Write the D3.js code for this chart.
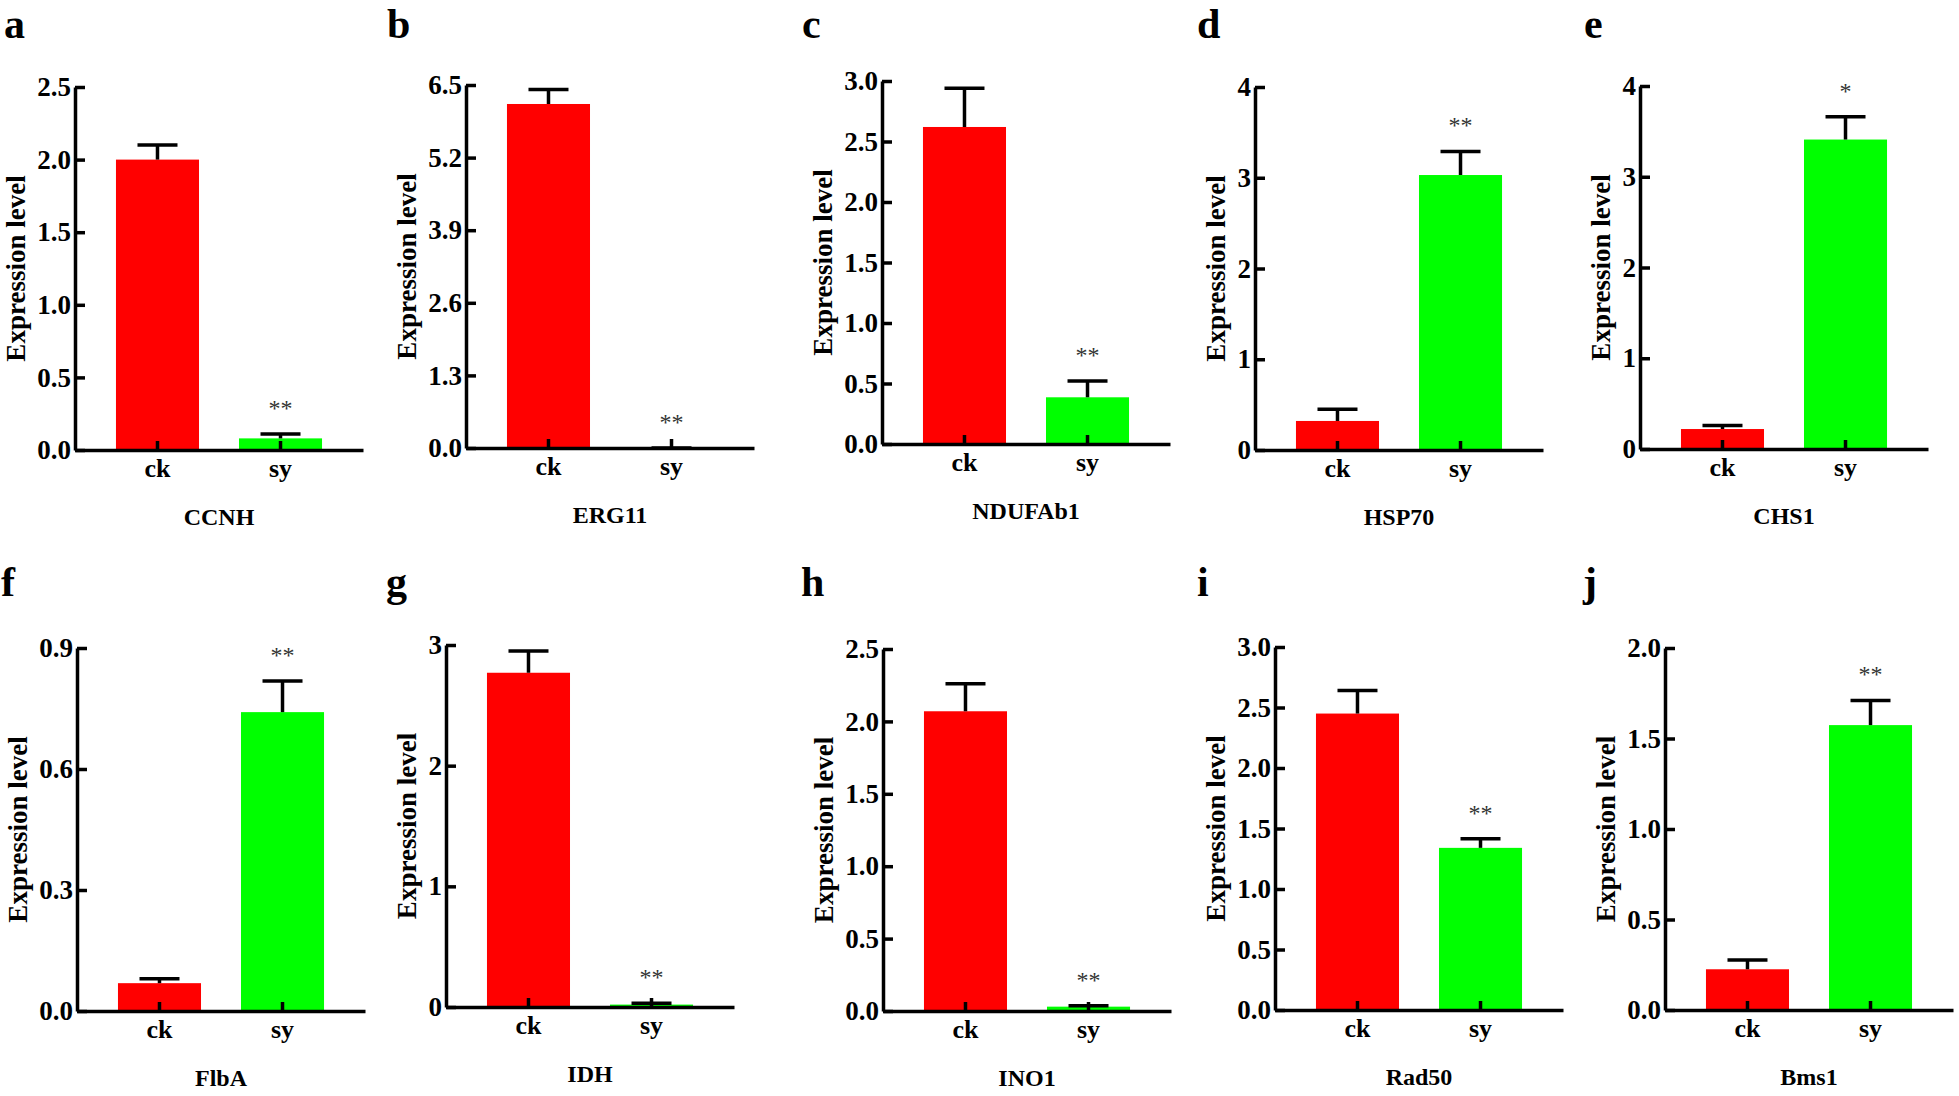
<!DOCTYPE html>
<html>
<head>
<meta charset="utf-8">
<script src="https://cdn.jsdelivr.net/npm/d3@7"></script>
<style>
    body { margin: 0; background: #fff; }
    text { font-family: "Liberation Serif", "Times New Roman", serif; }
</style>
</head>
<body>
<div id="chart"></div>
<script>
// values (upper error bar only)
const genes = ['CCNH', 'ERG11', 'NDUFAb1', 'HSP70', 'CHS1', 'FlbA', 'IDH', 'INO1', 'Rad50', 'Bms1'];
const letters = ['a', 'b', 'c', 'd', 'e', 'f', 'g', 'h', 'i', 'j'];
const groups = ['ck', 'sy'];
const ckMean = [2.00, 6.16, 2.62, 0.32, 0.22, 0.069, 2.77, 2.07, 2.45, 0.225];
const ckErr = [0.10, 0.26, 0.32, 0.13, 0.04, 0.011, 0.18, 0.19, 0.19, 0.051];
const syMean = [0.08, 0.0, 0.386, 3.03, 3.41, 0.741, 0.02, 0.03, 1.34, 1.574];
const syErr = [0.03, 0.0, 0.134, 0.26, 0.25, 0.077, 0.012, 0.006, 0.076, 0.136];
const stars = ['**', '**', '**', '**', '*', '**', '**', '**', '**', '**'];
const yMax = [2.5, 6.5, 3.0, 4, 4, 0.9, 3, 2.5, 3.0, 2.0];
const yStep = [0.5, 1.3, 0.5, 1, 1, 0.3, 1, 0.5, 0.5, 0.5];

// panel placement: y axis x, top of axis, baseline, letter x/y
const layout = [
    { ax: 75, top: 87, base: 450, lx: 4, ly: 38 },
    { ax: 466, top: 85, base: 448, lx: 387, ly: 38 },
    { ax: 882, top: 81, base: 444, lx: 802, ly: 38 },
    { ax: 1255, top: 87, base: 450, lx: 1197, ly: 38 },
    { ax: 1640, top: 86, base: 449, lx: 1584, ly: 38 },
    { ax: 77, top: 648, base: 1011, lx: 1, ly: 596 },
    { ax: 446, top: 645, base: 1007, lx: 386, ly: 596 },
    { ax: 883, top: 649, base: 1011, lx: 801, ly: 596 },
    { ax: 1275, top: 647, base: 1010, lx: 1197, ly: 596 },
    { ax: 1665, top: 648, base: 1010, lx: 1583, ly: 596 }
];

const colors = { ck: '#ff0000', sy: '#00ff00' };
const plotW = 288;
const lw = 3.5;

const svg = d3.select('#chart')
    .append('svg')
    .attr('width', 1959)
    .attr('height', 1096);

const drawPanel = i => {
    const L = layout[i];
    const h = L.base - L.top;

    svg.append('text')
        .attr('x', L.lx)
        .attr('y', L.ly)
        .attr('font-size', '42px')
        .attr('font-weight', 'bold')
        .text(letters[i]);

    const g = svg.append('g')
        .attr('transform', `translate(${L.ax}, ${L.top})`);

    const x = d3.scaleBand()
        .domain(groups)
        .range([0, plotW])
        .paddingInner(0.325)
        .paddingOuter(0.333);

    const y = d3.scaleLinear()
        .domain([0, yMax[i]])
        .range([h, 0]);

    const data = [
        { group: 'ck', mean: ckMean[i], err: ckErr[i] },
        { group: 'sy', mean: syMean[i], err: syErr[i] }
    ];

    g.selectAll('rect')
        .data(data)
        .join('rect')
        .attr('x', d => x(d.group))
        .attr('y', d => y(d.mean))
        .attr('width', x.bandwidth())
        .attr('height', d => y(0) - y(d.mean))
        .attr('fill', d => colors[d.group]);

    const cx = d => x(d.group) + x.bandwidth() / 2;
    const eb = g.append('g')
        .attr('stroke', '#000')
        .attr('stroke-width', lw);
    eb.selectAll('line.v')
        .data(data)
        .join('line')
        .attr('class', 'v')
        .attr('x1', cx).attr('x2', cx)
        .attr('y1', d => y(d.mean))
        .attr('y2', d => y(d.mean + d.err));
    eb.selectAll('line.cap')
        .data(data)
        .join('line')
        .attr('class', 'cap')
        .attr('x1', d => cx(d) - 20).attr('x2', d => cx(d) + 20)
        .attr('y1', d => y(d.mean + d.err))
        .attr('y2', d => y(d.mean + d.err));

    // significance mark over the sy bar
    g.append('text')
        .attr('x', cx(data[1]))
        .attr('y', y(data[1].mean + data[1].err) - 18)
        .attr('text-anchor', 'middle')
        .attr('font-size', '24px')
        .attr('fill', '#333')
        .text(stars[i]);

    const decimals = Number.isInteger(yStep[i]) ? 0 : 1;
    const ticks = d3.range(0, yMax[i] + yStep[i] / 2, yStep[i]);

    const yAxis = g.append('g')
        .call(d3.axisLeft(y)
            .tickValues(ticks)
            .tickFormat(d3.format(`.${decimals}f`))
            .tickSizeInner(-10)
            .tickSizeOuter(0)
            .tickPadding(4));

    const xAxis = g.append('g')
        .attr('transform', `translate(0, ${h})`)
        .call(d3.axisBottom(x)
            .tickSizeInner(-9)
            .tickSizeOuter(0)
            .tickPadding(9));

    [yAxis, xAxis].forEach(a => {
        a.selectAll('path, line')
            .attr('stroke', '#000')
            .attr('stroke-width', lw);
        a.selectAll('text')
            .attr('fill', '#000')
            .attr('font-weight', 'bold')
            .attr('font-family', '"Liberation Serif", "Times New Roman", serif');
    });
    yAxis.selectAll('text').attr('font-size', '27px');
    xAxis.selectAll('text').attr('font-size', '26px');

    const minX = d3.min(yAxis.selectAll('.tick text').nodes(), n => n.getBBox().x);

    g.append('text')
        .attr('transform', `translate(${minX - 22}, ${h / 2}) rotate(-90)`)
        .attr('text-anchor', 'middle')
        .attr('dy', '0.35em')
        .attr('font-size', '27px')
        .attr('font-weight', 'bold')
        .text('Expression level');

    g.append('text')
        .attr('x', plotW / 2)
        .attr('y', h + 75)
        .attr('text-anchor', 'middle')
        .attr('font-size', '24px')
        .attr('font-weight', 'bold')
        .text(genes[i]);
};

genes.forEach((d, i) => drawPanel(i));
</script>
</body>
</html>
